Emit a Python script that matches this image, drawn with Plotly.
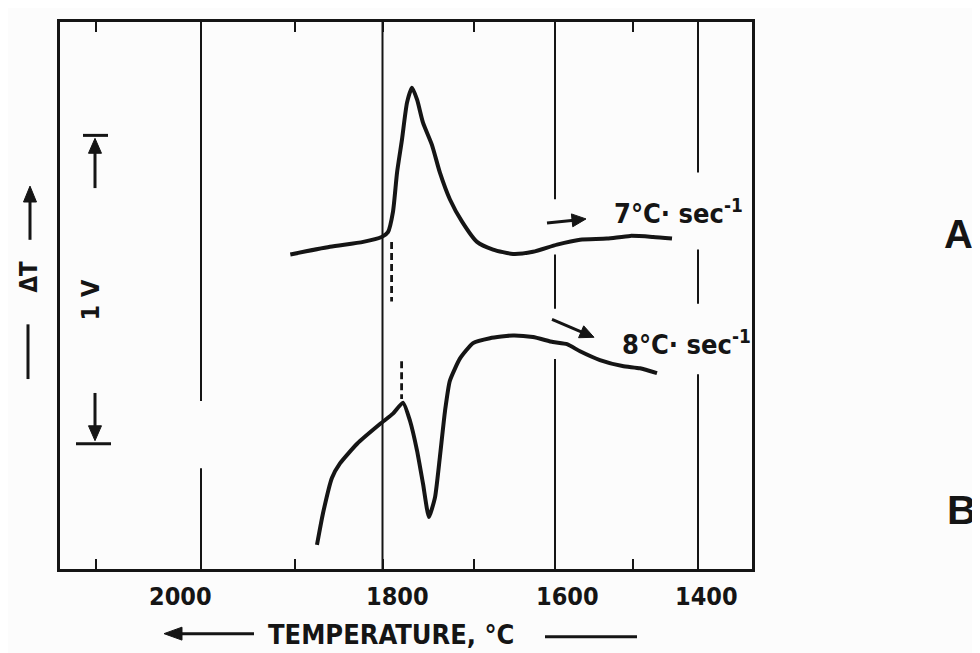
import math
import numpy as np
import plotly.graph_objects as go

# ---- temperature scale printed on the chart (it is not linear) ----
SCALE_T = [2100, 2000, 1900, 1800, 1700, 1600, 1500, 1400]
SCALE_POS = [96, 201, 295, 382.5, 473.5, 555, 632.5, 698]   # chart-paper position of each division
MAJOR_T = [2000, 1800, 1600, 1400]
MAJOR_LABELS = ["2000", "1800", "1600", "1400"]

# ---- curve A : 7 °C/s  (temperature °C, delta-T in chart divisions) ----
A_T = [1905, 1860, 1822, 1801, 1794, 1788.5, 1784, 1778.6, 1773, 1767.6, 1762,
       1755.5, 1745.6, 1737, 1726, 1712.6, 1695.7, 1676, 1651.5, 1627, 1597.4,
       1567.7, 1533, 1503, 1468.7, 1439.7]
A_DT = [5.75, 5.89, 5.98, 6.07, 6.16, 6.53, 7.25, 7.85, 8.53, 8.80, 8.58,
        8.16, 7.75, 7.25, 6.76, 6.35, 5.98, 5.84, 5.76, 5.80, 5.93,
        6.02, 6.04, 6.09, 6.07, 6.04]

# ---- curve B : 8 °C/s ----
B_T = [1874.9, 1868, 1857.7, 1848.6, 1829, 1802.9, 1788.5, 1777.5, 1769.8, 1762,
       1755.5, 1749, 1742.3, 1737, 1731.3, 1726, 1714.8, 1700.5, 1679.8, 1651.5,
       1627, 1602.5, 1584.5, 1567.7, 1542, 1512.9, 1488.5, 1462.6]
B_DT = [0.44, 1.02, 1.67, 1.93, 2.29, 2.65, 2.84, 3.04, 2.71, 2.16,
        1.56, 0.95, 1.31, 2.04, 2.89, 3.44, 3.85, 4.13, 4.22, 4.27,
        4.24, 4.15, 4.11, 3.98, 3.82, 3.71, 3.67, 3.58]

# ---- onset markers (dashed) ----
ONSET_T = [1790, 1779]
ONSET_Y0 = [5.98, 3.80]
ONSET_Y1 = [4.89, 3.11]

# ---- drawn segments of the grid lines (y in chart divisions) ----
GRID_SEGMENTS = {
    2000: [(3.07, 10), (0, 1.84)],
    1800: [(0, 10)],
    1600: [(6.76, 10), (4.76, 5.75), (0, 3.84)],
    1400: [(7.25, 10), (4.85, 5.84), (0, 3.56)],
}

INK = "#151515"
FONT = "Liberation Sans Narrow, DejaVu Sans Condensed, sans-serif"
FONT_WIDE = "Liberation Sans, Arial, DejaVu Sans, sans-serif"

# page has an 8px body margin: figure is sized to fill the rest of the window
OFF = 8
W, H = 980 - OFF, 653 - OFF
L, R, T, B = 60, 752, 19, 569          # plot box in window pixels


def to_axis(temp):
    return np.interp(-np.asarray(temp, dtype=float), -np.asarray(SCALE_T, dtype=float), SCALE_POS)


def px(x):
    return (x - L) / (R - L)


def py(y):
    return (B - y) / (B - T)


fig = go.Figure()

# grid lines
for temp, segs in GRID_SEGMENTS.items():
    xg = float(to_axis(temp))
    for y0, y1 in segs:
        fig.add_shape(type="line", xref="x", yref="y", x0=xg, x1=xg, y0=y0, y1=y1,
                      line=dict(color=INK, width=2), layer="below")

fig.add_trace(go.Scatter(x=to_axis(A_T), y=A_DT, mode="lines", name="7 °C/s",
                         line=dict(color=INK, width=4, shape="spline", smoothing=0.6),
                         showlegend=False, hoverinfo="skip"))
fig.add_trace(go.Scatter(x=to_axis(B_T), y=B_DT, mode="lines", name="8 °C/s",
                         line=dict(color=INK, width=4, shape="spline", smoothing=0.5),
                         showlegend=False, hoverinfo="skip"))
for t, y0, y1 in zip(ONSET_T, ONSET_Y0, ONSET_Y1):
    xo = to_axis([t, t])
    fig.add_trace(go.Scatter(x=xo, y=[y0, y1], mode="lines",
                             line=dict(color=INK, width=2.8, dash="7px,4px"),
                             showlegend=False, hoverinfo="skip"))

ann = []


def text(x, y, s, size, family=FONT, angle=0, xanchor="center"):
    ann.append(dict(x=px(x), y=py(y), xref="paper", yref="paper", text=s, textangle=angle,
                    showarrow=False, xanchor=xanchor, yanchor="middle",
                    font=dict(family=family, size=size, color=INK, weight=700)))


LABEL_SHIFT = [-21, 15, 12, 8]
for temp, lab, sh in zip(MAJOR_T, MAJOR_LABELS, LABEL_SHIFT):
    ann.append(dict(x=float(to_axis(temp)), xref="x", y=py(597), yref="paper", text=lab,
                    showarrow=False, xshift=sh, xanchor="center", yanchor="middle",
                    font=dict(family=FONT, size=25, color=INK, weight=700)))
text(391, 635, "TEMPERATURE, °C", 27)
text(612, 210, "7°C· sec<sup>-1</sup>", 27, xanchor="left")
text(620, 341, "8°C· sec<sup>-1</sup>", 27, xanchor="left")
text(958, 232, "A", 40, family=FONT_WIDE)
text(962, 510, "B", 41, family=FONT_WIDE)
text(29, 275, "ΔT", 24, angle=-90)
text(90, 299, "1 V", 25, angle=-90)


def add_line(p0, p1, w=3):
    fig.add_shape(type="line", xref="paper", yref="paper", x0=px(p0[0]), y0=py(p0[1]),
                  x1=px(p1[0]), y1=py(p1[1]), line=dict(color=INK, width=w))


def add_arrow(tip, tail, head_len=15, head_w=14, w=3):
    dx, dy = tip[0] - tail[0], tip[1] - tail[1]
    n = math.hypot(dx, dy)
    ux, uy = dx / n, dy / n
    bx, by = tip[0] - ux * head_len, tip[1] - uy * head_len
    nx, ny = -uy, ux
    add_line(tail, (bx + ux * 2, by + uy * 2), w)
    pts = [tip, (bx + nx * head_w / 2, by + ny * head_w / 2), (bx - nx * head_w / 2, by - ny * head_w / 2)]
    path = "M " + " L ".join(f"{px(x):.5f},{py(y):.5f}" for x, y in pts) + " Z"
    fig.add_shape(type="path", xref="paper", yref="paper", path=path,
                  fillcolor=INK, line=dict(color=INK, width=1))


add_arrow((586, 217), (547, 221), 14, 13)
add_arrow((594, 336), (552, 318), 14, 13)
add_arrow((164, 634), (254, 634), 18, 13)
add_arrow((30, 184), (30, 238), 16, 13)
add_arrow((95, 136), (95, 186), 15, 13)
add_arrow((95, 440), (95, 392), 15, 13)
add_line((545, 637), (637, 637))
add_line((28, 323), (28, 378))
add_line((83, 133), (108, 133))
add_line((76, 443), (111, 443))

fig.update_layout(
    width=W, height=H,
    margin=dict(l=L - OFF, r=W - (R - OFF), t=T - OFF, b=H - (B - OFF), pad=0),
    paper_bgcolor="#fcfcfc", plot_bgcolor="#fcfcfc",
    annotations=ann,
    showlegend=False,
)
fig.update_xaxes(range=[L, R], showgrid=False, zeroline=False, showline=True, mirror="ticks",
                 linecolor=INK, linewidth=3, ticks="inside", ticklen=10, tickwidth=2, tickcolor=INK,
                 tickvals=list(to_axis(SCALE_T)), showticklabels=False)
fig.update_yaxes(range=[0, 10], showgrid=False, zeroline=False, showline=True, mirror=True,
                 linecolor=INK, linewidth=3, ticks="", showticklabels=False)

fig.write_html("out.html")
